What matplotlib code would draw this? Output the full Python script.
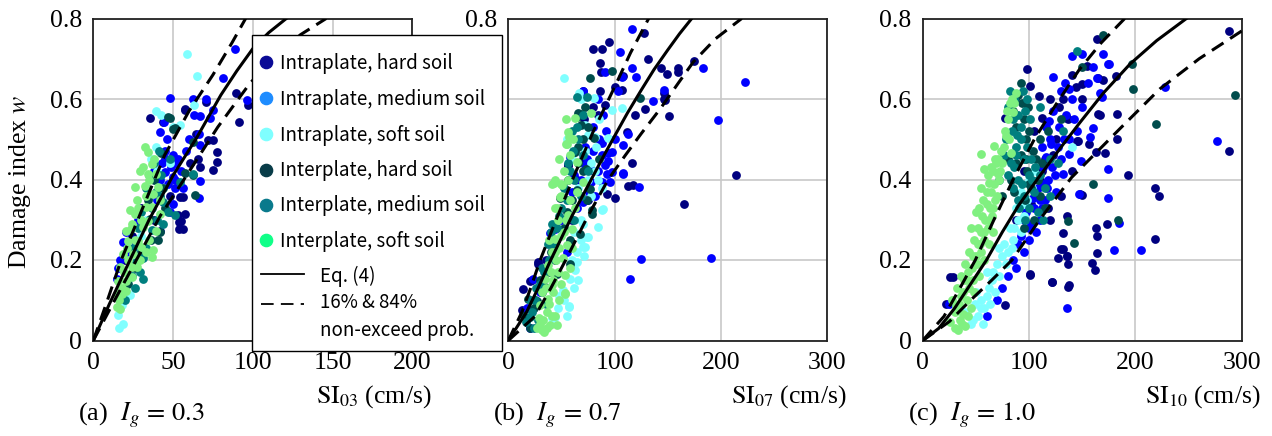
import matplotlib
matplotlib.use("Agg")
import matplotlib.pyplot as plt
from matplotlib.patches import Rectangle
from matplotlib.lines import Line2D

plt.rcParams['font.family'] = ['Liberation Serif', 'DejaVu Serif']
plt.rcParams['mathtext.fontset'] = 'stix'

# ---------------- data: (SI, w) pairs ----------------
# Panel (a) Ig = 0.3
A_INTRA_HARD = [(35.8,0.552),(57.7,0.572),(89.2,0.614),(91.3,0.543),(97,0.584),(77.5,0.469),(77.5,0.444),(75,0.423),
                (71.9,0.498),(65.6,0.452),(60.4,0.44),(64.6,0.514),(75,0.497),(66.7,0.431),(70.8,0.592),(57.3,0.576),
                (43.8,0.542),(56.3,0.356),(57.3,0.315),(55.2,0.298),(56.3,0.277),(41.7,0.273),(53.8,0.295),(53.8,0.278),
                (53.1,0.311),(54.6,0.357),(45,0.45),(48,0.36),(38,0.3),(20,0.2),(24,0.26),(30,0.33)]
A_INTRA_MED = [(89,0.724),(81.3,0.653),(47.9,0.603),(62.5,0.601),(70.4,0.601),(75,0.572),(62.9,0.56),(67.1,0.558),
               (73.3,0.553),(44.2,0.543),(41.7,0.518),(66.3,0.514),(67.1,0.485),(96.5,0.597),(45.8,0.452),(50,0.46),
               (49,0.431),(44.8,0.419),(51,0.398),(66.3,0.354),(50,0.34),(47.9,0.32),(18.8,0.245),(15.6,0.179),
               (14.6,0.154),(20.8,0.27),(51,0.378),(66.7,0.396),(50,0.406),(47,0.39),(45,0.47),(52,0.44),(42,0.4),
               (40,0.35),(22,0.22),(17,0.2),(25,0.25),(28,0.3),(35,0.36),(38,0.42),(55,0.42),(58,0.47),(46,0.5),(60,0.5),
               (56,0.38),(53,0.45),(43,0.44)]
A_INTRA_SOFT = [(59,0.711),(64.8,0.658),(39,0.57),(42.3,0.56),(54.2,0.535),(63.1,0.586),(15.6,0.063),(18.8,0.04),
                (16.3,0.03),(22.9,0.113),(17.7,0.088),(39.6,0.48),(50,0.53),(40,0.42),(44,0.38),(33,0.3),(28,0.22),
                (22,0.15),(20,0.12),(36,0.45),(48,0.44),(30,0.26)]
A_INTER_HARD = [(47.9,0.553),(51,0.527),(62.5,0.492),(57.3,0.417),(62.5,0.41),(42.7,0.465),(63.5,0.361),(41.7,0.27),
                (40.6,0.249),(35.4,0.303),(46.9,0.555),(50,0.526),(38,0.4),(44,0.38),(34,0.35),(30,0.22),(26,0.18),
                (22,0.14),(45,0.33),(36,0.25)]
A_INTER_MED = [(51,0.311),(39.6,0.369),(36.5,0.274),(33.3,0.229),(31.3,0.154),(27,0.195),(31.3,0.204),(43.8,0.345),
               (46.9,0.32),(42.7,0.411),(62.5,0.414),(54.2,0.393),(38,0.44),(41,0.47),(35,0.41),(28,0.28),(24,0.16),
               (20,0.1),(30,0.32),(44,0.29),(48,0.45),(25,0.23),(33,0.38),(37,0.33),(40,0.3),(26,0.13),(29,0.17),
               (42,0.36)]
A_INTER_SOFT = [(32.3,0.48),(34.4,0.468),(36.5,0.439),(34.4,0.414),(32.3,0.385),(27.1,0.348),(26,0.315),(23.9,0.277),
                (21.9,0.248),(18.8,0.215),(16.7,0.182),(15.6,0.149),(15,0.116),(14.6,0.083),(16.7,0.079),(20.8,0.124),
                (24,0.157),(29.2,0.199),(36.5,0.207),(37.5,0.224),(39.6,0.273),(41.7,0.315),(41.7,0.348),(40.6,0.381),
                (39.6,0.414),(37.5,0.364),(33.3,0.331),(31.3,0.282),(28.1,0.248),(25,0.215),(24,0.182),(20.8,0.149),
                (17.7,0.116),(29.2,0.422),(26,0.381),(22.9,0.323),(20.8,0.273),(36.5,0.331),(34.4,0.298),(30.2,0.232),
                (27.1,0.182),(19,0.17),(22,0.2),(26,0.25),(30,0.3),(33,0.36),(35,0.4),(38,0.45),(31,0.43),(28,0.33),
                (24,0.29),(21,0.23),(18,0.13),(16,0.1),(35,0.25),(33,0.22)]
A_SI_MED = [0, 10, 23, 35, 50, 65, 80, 90, 100, 110, 121]
A_W_MED = [0, 0.09, 0.2, 0.3, 0.41, 0.505, 0.61, 0.67, 0.725, 0.765, 0.8]
A_SI_UP = [0, 8, 17.5, 30, 44.7, 60, 75, 87, 95.5]
A_W_UP = [0, 0.09, 0.2, 0.32, 0.46, 0.57, 0.66, 0.74, 0.8]
A_SI_LO = [0, 12, 27, 42, 58, 78, 98, 115, 130, 146]
A_W_LO = [0, 0.09, 0.2, 0.31, 0.407, 0.53, 0.638, 0.71, 0.76, 0.8]

# Panel (b) Ig = 0.7
B_INTRA_HARD = [(80,0.725),(87.8,0.725),(94.7,0.742),(127.9,0.765),(86.2,0.69),(87.1,0.668),(131,0.7),(143.6,0.676),
                (147.3,0.597),(106.6,0.622),(71.5,0.55),(84.6,0.56),(90.9,0.585),(100.3,0.63),(107.5,0.658),(119.1,0.56),
                (128.5,0.576),(111.3,0.518),(116.6,0.442),(70.5,0.452),(56.4,0.436),(112.2,0.384),(117.6,0.386),
                (100.3,0.354),(14.1,0.129),(21.9,0.15),(28.2,0.195),(12.5,0.075),(92.5,0.365),(149,0.663),(159.9,0.676),
                (159.9,0.668),(174.6,0.694),(146.4,0.614),(146.4,0.599),(151.4,0.558),(213.9,0.412),(165.2,0.339),
                (70.5,0.621),(79.9,0.58),(86.2,0.621),(55.8,0.437),(20.4,0.149),(28.2,0.19),(60,0.3),(45,0.25),
                (75,0.35),(35,0.2),(25,0.1),(65,0.4)]
B_INTRA_MED = [(116.6,0.775),(105,0.717),(116.6,0.676),(119.7,0.655),(90.9,0.668),(106.6,0.655),(103.4,0.619),
               (70.5,0.619),(84,0.601),(89.3,0.56),(136.4,0.595),(146.7,0.622),(108.2,0.485),(112.2,0.514),(94,0.465),
               (87.8,0.46),(90.9,0.436),(78.4,0.423),(72.1,0.436),(108.2,0.415),(97.2,0.419),(183.4,0.676),
               (222.6,0.643),(197.5,0.549),(190.3,0.204),(124.8,0.202),(114.4,0.154),(122.9,0.382),(39.2,0.266),
               (43.9,0.278),(70.5,0.345),(77.7,0.394),(87.8,0.394),(23.5,0.154),(20.4,0.03),(58,0.455),(72.1,0.48),
               (94,0.447),(97.2,0.468),(92.5,0.414),(95.6,0.393),(107.5,0.414),(79.9,0.53),(60,0.37),(50,0.3),
               (65,0.33),(82,0.36),(35,0.17),(30,0.12),(18,0.08),(55,0.22),(85,0.5),(100,0.5),(68,0.4),(74,0.45),
               (80,0.47),(88,0.49),(76,0.37),(84,0.42),(92,0.52),(62,0.41)]
B_INTRA_SOFT = [(52.7,0.651),(66.5,0.616),(80.9,0.603),(97.8,0.572),(106.6,0.578),(75.2,0.51),(81.5,0.506),(82.1,0.481),
                (94,0.502),(72.1,0.535),(87.8,0.324),(84.6,0.282),(75.2,0.258),(72.1,0.233),(71.5,0.21),(64.3,0.195),
                (62.7,0.175),(58,0.154),(57.1,0.085),(51.7,0.125),(40.8,0.055),(47,0.08),(43.9,0.059),(57.4,0.083),
                (70.5,0.232),(73.7,0.257),(89.3,0.327),(84.6,0.398),(68,0.6),(60,0.45),(66,0.38),(78,0.44),(55,0.5),
                (68,0.3),(62,0.13),(48,0.11),(60,0.2),(65,0.22),(68,0.25),(62,0.27),(70,0.29),(78,0.36),(82,0.42),
                (75,0.4),(88,0.38),(55,0.06),(52,0.1),(66,0.15),(72,0.47),(85,0.55)]
B_INTER_HARD = [(76.8,0.651),(97.8,0.67),(123.8,0.603),(72.1,0.58),(65.8,0.564),(68.3,0.535),(80.9,0.503),(65.8,0.481),
                (62.7,0.469),(72.7,0.427),(68,0.563),(64.3,0.555),(61.8,0.468),(70.5,0.422),(76.8,0.377),(73.7,0.348),
                (78.4,0.315),(67.4,0.265),(58,0.19),(45.5,0.166),(34.5,0.133),(26.6,0.099),(55.8,0.398),(78.4,0.324),
                (64.3,0.374),(48.6,0.353),(18.8,0.104),(15,0.06),(20,0.03),(52,0.28),(40,0.22),(30,0.15),(85,0.45),
                (24,0.08),(32,0.12),(38,0.17),(44,0.2),(55,0.32),(60,0.35),(66,0.44),(70,0.5),(75,0.53),(58,0.25)]
B_INTER_MED = [(64.3,0.605),(73.7,0.605),(54.9,0.306),(20.4,0.058),(60,0.52),(66,0.5),(58,0.42),(62,0.4),(55,0.35),
               (50,0.33),(46,0.28),(42,0.24),(38,0.2),(34,0.17),(30,0.14),(25,0.1),(22,0.07),(17,0.045),(45,0.25),
               (70,0.46),(75,0.42),(62,0.3),(28,0.05),(35,0.09),(68,0.36),(20,0.1),(26,0.13),(32,0.18),(37,0.24),
               (41,0.29),(48,0.31),(52,0.38),(56,0.44),(61,0.47),(65,0.53),(70,0.56),(24,0.03),(40,0.27)]
B_INTER_SOFT = [(53.9,0.551),(54.9,0.489),(42.6,0.392),(49.2,0.389),(48.6,0.356),(53.3,0.116),(62.7,0.554),(55.8,0.518),
                (57.1,0.506),(53.9,0.489),(64.3,0.444),(77.7,0.564),(40.8,0.39),(50.2,0.386),(43.9,0.328),(43.9,0.253),
                (40.8,0.22),(37.6,0.187),(34.5,0.154),(31.3,0.121),(29.8,0.088),(28.8,0.055),(31.3,0.026),(56.4,0.311),
                (62.7,0.328),(59.6,0.278),(54.9,0.237),(51.7,0.204),(47,0.171),(40.8,0.137),(37.6,0.104),(36,0.071),
                (53.3,0.162),(58,0.179),(53.3,0.117),(39.2,0.038),(45.5,0.038),(64.3,0.369),(70.5,0.394),(47,0.3),
                (52,0.27),(45,0.2),(42,0.15),(48,0.1),(44,0.06),(36,0.03),(58,0.35),(60,0.23),(50,0.14),
                (33,0.05),(38,0.09),(42,0.12),(35,0.13),(40,0.17),(44,0.22),(38,0.25),(48,0.23),(50,0.26),(46,0.33),
                (54,0.3),(50,0.36),(56,0.4),(52,0.42),(58,0.46),(48,0.45),(61,0.5),(44,0.4),(30,0.04),(34,0.02),
                (27,0.03),(41,0.06)]
B_SI_MED = [0, 17, 28, 39, 50, 60, 70, 80, 90, 100, 112, 125, 137, 150, 161, 172.5]
B_W_MED = [0, 0.07, 0.13, 0.195, 0.255, 0.31, 0.36, 0.41, 0.46, 0.508, 0.565, 0.622, 0.673, 0.722, 0.762, 0.8]
B_SI_UP = [0, 13, 21, 30, 45, 62, 80, 100, 115, 132]
B_W_UP = [0, 0.072, 0.13, 0.2, 0.3, 0.41, 0.52, 0.63, 0.715, 0.8]
B_SI_LO = [0, 25, 40, 54, 75, 94, 110, 125, 143, 160, 174, 195, 219.5]
B_W_LO = [0, 0.06, 0.13, 0.2, 0.31, 0.4, 0.46, 0.514, 0.576, 0.64, 0.692, 0.75, 0.8]

# Panel (c) Ig = 1.0
C_INTRA_HARD = [(97.8,0.674),(100.9,0.632),(109.7,0.607),(77.4,0.554),(111.9,0.553),(135.4,0.553),(144.8,0.495),
                (163.6,0.749),(165.2,0.563),(182.4,0.562),(182.4,0.5),(171.5,0.465),(193.4,0.411),(218.5,0.379),
                (222.5,0.36),(218.5,0.252),(288.4,0.768),(288.4,0.471),(165.2,0.651),(148,0.363),(135.4,0.31),
                (131.6,0.267),(129.8,0.227),(127.6,0.205),(135.4,0.211),(136.9,0.191),(136.9,0.134),(121.3,0.145),
                (100.9,0.163),(77.4,0.089),(158.9,0.193),(162.1,0.176),(163.6,0.259),(163,0.28),(173.1,0.29),
                (163.6,0.217),(25.7,0.159),(154.8,0.683),(149.5,0.362),(156.7,0.488),(163.3,0.468),(169.3,0.647),
                (181.8,0.658),(149.5,0.638),(166.7,0.561),(136.4,0.55),(145.8,0.496),(28.2,0.158),(101.3,0.164),
                (121.6,0.146),(137.3,0.139),(131.7,0.227),(135.4,0.21),(120,0.6),(125,0.5),(115,0.45),(110,0.4),
                (140,0.42),(130,0.36),(120,0.3),(105,0.52),(150,0.6),(140,0.66),(118,0.33),(128,0.58),(95,0.42),
                (88,0.3),(22,0.09),(115,0.39),(123,0.46),(132,0.6),(144,0.63),(102,0.34),(112,0.42)]
C_INTRA_MED = [(95,0.3),(100,0.28),(105,0.33),(110,0.3),(115,0.35),(108,0.38),(118,0.4),(125,0.37),(122,0.43),
               (130,0.45),(112,0.48),(120,0.5),(128,0.53),(135,0.56),(140,0.6),(130,0.62),(122.3,0.654),(137.9,0.625),
               (140.4,0.706),(149.5,0.711),(169.9,0.711),(174.6,0.686),(166.7,0.614),(168.3,0.604),(163.6,0.653),
               (175.2,0.688),(157.3,0.506),(160.4,0.529),(148.9,0.446),(174.5,0.426),(174.5,0.353),(184.9,0.291),
               (180.2,0.226),(205.3,0.226),(227.8,0.63),(276.4,0.495),(135.4,0.08),(25.1,0.09),(103.4,0.355),
               (112.9,0.388),(147.3,0.363),(120.7,0.488),(116,0.455),(137.9,0.463),(131.7,0.413),(119.1,0.546),
               (100,0.25),(90,0.24),(85,0.2),(80,0.16),(75,0.13),(70,0.1),(60,0.06),(145,0.52),(150,0.58),
               (155,0.64),(160,0.68),(92,0.26),(97,0.32),(102,0.29),(107,0.27),(112,0.33),(117,0.38),(124,0.41),
               (113,0.43),(127,0.48),(133,0.5),(116,0.53),(123,0.57),(134,0.64),(142,0.55),(138,0.5),(110,0.35),
               (95,0.22),(88,0.18)]
C_INTRA_SOFT = [(57,0.04),(52,0.06),(58,0.08),(55,0.1),(60,0.11),(50,0.12),(62,0.13),(65,0.15),(60,0.17),(70,0.19),
                (75,0.21),(72,0.23),(80,0.22),(85,0.25),(82,0.28),(90,0.3),(95,0.31),(88,0.33),(98,0.35),(92,0.37),
                (100,0.4),(105,0.42),(140,0.48),(47,0.05),(40,0.07),(45,0.04),(63,0.09),(68,0.12),(66,0.17),(72,0.16),
                (78,0.19),(76,0.24),(84,0.23),(86,0.28),(92,0.27),(94,0.34),(55,0.08),(49,0.09),(103,0.38)]
C_INTER_HARD = [(90,0.61),(93,0.59),(85,0.57),(95,0.55),(88,0.53),(100,0.52),(97,0.5),(104,0.47),(92,0.46),(98,0.42),
                (108,0.4),(102,0.38),(110,0.36),(115,0.33),(105,0.3),(95,0.28),(80,0.45),(83,0.4),(75,0.36),(112,0.44),
                (118,0.52),(130,0.55),(150,0.68),(170,0.758),(196.6,0.688),(198,0.626),(219,0.539),(293.7,0.61),
                (184,0.299),(160.5,0.388),(142.3,0.242),(137,0.296),(87,0.6),(92,0.64),(99,0.58),(88,0.44),(96,0.35),
                (100,0.39),(107,0.45),(110,0.5),(86,0.37),(97,0.45)]
C_INTER_MED = [(82,0.62),(86,0.6),(80,0.58),(90,0.56),(84,0.52),(92,0.5),(88,0.48),(95,0.45),(86,0.43),(100,0.41),
               (93,0.39),(105,0.37),(90,0.35),(100,0.33),(108,0.32),(96,0.3),(110,0.41),(115,0.38),(120,0.36),
               (78,0.5),(76,0.46),(83,0.44),(72,0.4),(98,0.6),(110,0.58),(127,0.44),(132,0.52),(145,0.72),(113,0.3),
               (120,0.45),(101,0.55),(85,0.38),(90,0.4),(95,0.36),(88,0.46),(92,0.53),(96,0.57),(85,0.55),(89,0.51),
               (102,0.45),(106,0.43),(98,0.48),(80,0.41),(94,0.62),(91,0.33),(103,0.4)]
C_INTER_SOFT = [(25.7,0.047),(33.5,0.027),(30,0.07),(35,0.05),(40,0.035),(28,0.1),(34,0.09),(38,0.12),(32,0.13),
                (42,0.1),(36,0.16),(42,0.15),(40,0.19),(46,0.18),(44,0.22),(50,0.21),(48,0.25),(54,0.24),(52,0.28),
                (58,0.27),(56,0.31),(62,0.3),(60,0.34),(66,0.33),(55,0.38),(64,0.37),(70,0.36),(62.7,0.392),
                (58,0.426),(54.9,0.463),(67.4,0.484),(70.5,0.413),(78.4,0.509),(83.1,0.465),(84.6,0.567),(87.8,0.614),
                (75,0.44),(68,0.45),(45,0.28),(50,0.32),(72,0.4),(76,0.48),(80,0.55),(82,0.59),(66,0.42),(38,0.065),
                (45,0.08),(48,0.12),(53,0.16),(58,0.2),(62,0.24),(66,0.27),(30,0.03),(37,0.04),(43,0.06),(31,0.085),
                (36,0.11),(44,0.13),(39,0.15),(47,0.15),(43,0.17),(51,0.19),(47,0.21),(55,0.22),(52,0.24),(58,0.25),
                (55,0.27),(61,0.28),(59,0.3),(65,0.31),(63,0.33),(68,0.35),(60,0.37),(67,0.39),(64,0.43),(71,0.45),
                (74,0.47),(77,0.52),(81,0.5),(79,0.57),(84,0.6),(86,0.59),(73,0.42),(69,0.44),(61,0.41),(57,0.35),
                (53,0.33)]
C_SI_MED = [0, 15, 30, 45, 60, 75, 90, 109, 130, 148, 170, 195, 220, 248]
C_W_MED = [0, 0.03, 0.08, 0.14, 0.2, 0.27, 0.335, 0.405, 0.48, 0.542, 0.615, 0.687, 0.745, 0.8]
C_SI_UP = [0, 20, 35, 49.5, 67, 86, 105, 125, 147, 168, 190]
C_W_UP = [0, 0.06, 0.13, 0.2, 0.3, 0.405, 0.5, 0.585, 0.672, 0.74, 0.8]
C_SI_LO = [0, 25, 45, 65, 84, 110, 140, 185, 223, 260, 300]
C_W_LO = [0, 0.047, 0.1, 0.15, 0.2, 0.3, 0.405, 0.525, 0.625, 0.7, 0.769]

SERIES_NAMES = ["Intraplate, hard soil", "Intraplate, medium soil", "Intraplate, soft soil",
                "Interplate, hard soil", "Interplate, medium soil", "Interplate, soft soil"]
POINT_COLORS = ["#000080", "#0000ff", "#80ffff", "#004c4c", "#007f7f", "#80f080"]
LEGEND_COLORS = ["#0a0a96", "#1e8cff", "#7fffff", "#083c48", "#0a7a8c", "#10ff88"]

PANELS = [
    dict(series=[A_INTRA_HARD, A_INTRA_MED, A_INTRA_SOFT, A_INTER_HARD, A_INTER_MED, A_INTER_SOFT],
         med=(A_SI_MED, A_W_MED), up=(A_SI_UP, A_W_UP), lo=(A_SI_LO, A_W_LO),
         xmax=200, xticks=[0, 50, 100, 150, 200], sub="03", cap=r"(a)  $I_g\,=\,0.3$",
         ylabels=["0", "0.2", "0.4", "0.6", "0.8"]),
    dict(series=[B_INTRA_HARD, B_INTRA_MED, B_INTRA_SOFT, B_INTER_HARD, B_INTER_MED, B_INTER_SOFT],
         med=(B_SI_MED, B_W_MED), up=(B_SI_UP, B_W_UP), lo=(B_SI_LO, B_W_LO),
         xmax=300, xticks=[0, 100, 200, 300], sub="07", cap=r"(b)  $I_g\,=\,0.7$",
         ylabels=["", "", "", "", "0.8"]),   # the others sit under the legend box
    dict(series=[C_INTRA_HARD, C_INTRA_MED, C_INTRA_SOFT, C_INTER_HARD, C_INTER_MED, C_INTER_SOFT],
         med=(C_SI_MED, C_W_MED), up=(C_SI_UP, C_W_UP), lo=(C_SI_LO, C_W_LO),
         xmax=300, xticks=[0, 100, 200, 300], sub="10", cap=r"(c)  $I_g\,=\,1.0$",
         ylabels=["0", "0.2", "0.4", "0.6", "0.8"]),
]
YTICKS = [0, 0.2, 0.4, 0.6, 0.8]

# ---------------- figure ----------------
W, H = 1272, 436
fig = plt.figure(figsize=(W / 100, H / 100), dpi=100)

def fx(x):
    return x / W

def fy(y):
    return 1 - y / H

AX_X = [(93.3, 412.3), (508.3, 827.3), (922.7, 1241.7)]
TOP, BOT = 18.5, 340.5
FS = 18.5
DASH = (4.5, 2.6)

for (l, r), p in zip(AX_X, PANELS):
    ax = fig.add_axes([fx(l), fy(BOT), (r - l) / W, (BOT - TOP) / H])
    for pts, col in zip(p["series"], POINT_COLORS):
        xs, ws = zip(*pts)
        ax.scatter(xs, ws, s=40, color=col, linewidths=0, zorder=2)
    ax.plot(*p["med"], color="black", lw=2.2, zorder=3)
    ax.plot(*p["up"], color="black", lw=2.2, dashes=DASH, zorder=3)
    ax.plot(*p["lo"], color="black", lw=2.2, dashes=DASH, zorder=3)
    ax.set_xlim(0, p["xmax"])
    ax.set_ylim(0, 0.8)
    ax.set_xticks(p["xticks"])
    ax.set_xticklabels([str(t) for t in p["xticks"]])
    ax.set_yticks(YTICKS)
    ax.set_yticklabels(p["ylabels"])
    ax.grid(True, color="#c8c8c8", lw=1.2)
    ax.set_axisbelow(True)
    for sp in ax.spines.values():
        sp.set_color("#222222")
        sp.set_linewidth(1.3)
    ax.tick_params(length=0, pad=8, labelsize=FS)
    fig.text(fx(r + 19), fy(397), r"$\mathrm{SI}_{" + p["sub"] + r"}$ (cm/s)",
             ha="right", va="center", fontsize=FS)
    fig.text(fx(l - 15), fy(415), p["cap"], ha="left", va="center", fontsize=19)

fig.text(fx(20), fy(182), r"Damage index $w$", rotation=90, ha="center", va="center", fontsize=FS)

# ---------------- legend (drawn over the panels) ----------------
LEG_FONT = ["Noto Sans CJK JP", "DejaVu Sans"]
LFS = 13.5
fig.add_artist(Rectangle((fx(252), fy(351)), 250 / W, 316 / H, transform=fig.transFigure,
                         facecolor="white", edgecolor="black", lw=1.0, zorder=10))
row_y = [62.5, 98, 134, 169.5, 204.5, 240]
for name, col, yy in zip(SERIES_NAMES, LEGEND_COLORS, row_y):
    fig.add_artist(Line2D([fx(266)], [fy(yy)], marker="o", ms=8.8, color=col, lw=0,
                          transform=fig.transFigure, zorder=11))
    fig.text(fx(280), fy(yy + 1), name, ha="left", va="center", fontsize=LFS, family=LEG_FONT, zorder=12)
fig.add_artist(Line2D([fx(261), fx(304)], [fy(274), fy(274)], color="black", lw=1.3,
                      transform=fig.transFigure, zorder=11))
fig.add_artist(Line2D([fx(261), fx(304)], [fy(304), fy(304)], color="black", lw=1.3, dashes=(7, 4),
                      transform=fig.transFigure, zorder=11))
fig.text(fx(320), fy(276), "Eq. (4)", ha="left", va="center", fontsize=LFS, family=LEG_FONT, zorder=12)
fig.text(fx(320), fy(302), "16% & 84%", ha="left", va="center", fontsize=LFS, family=LEG_FONT, zorder=12)
fig.text(fx(320), fy(330), "non-exceed prob.", ha="left", va="center", fontsize=LFS, family=LEG_FONT, zorder=12)

fig.savefig("out.png", dpi=100)
